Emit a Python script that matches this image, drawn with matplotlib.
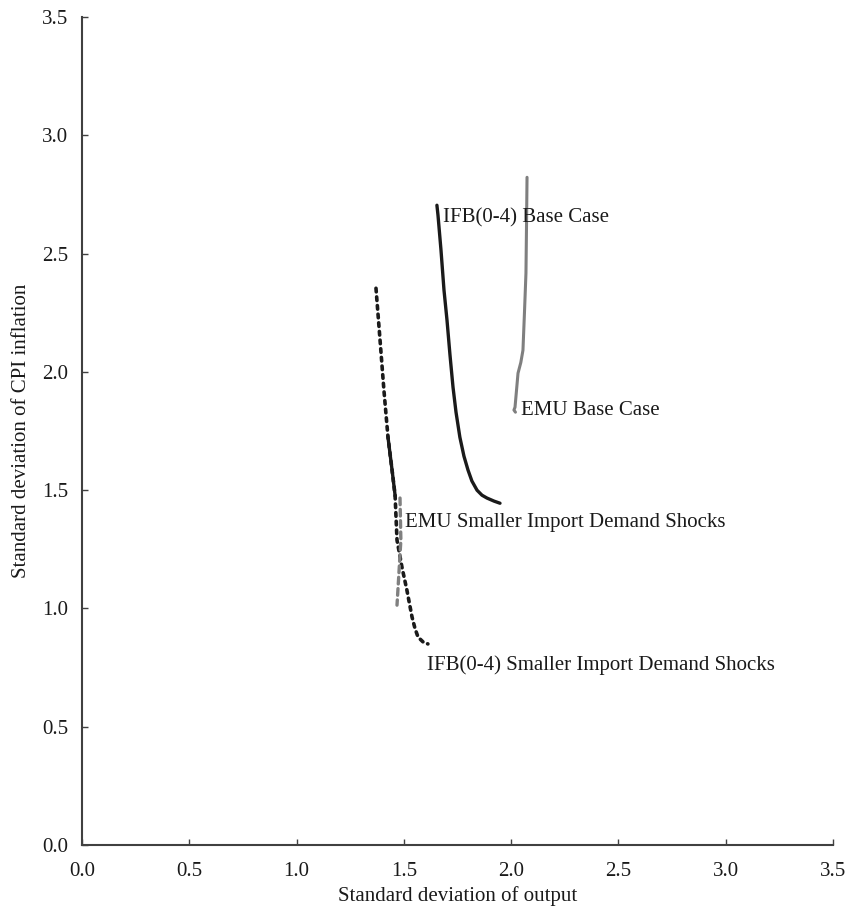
import matplotlib
matplotlib.use("Agg")
import matplotlib.pyplot as plt

plt.rcParams['font.family'] = ['Liberation Serif', 'DejaVu Serif']

# IFB(0-4) base case (solid black)
ifb_base_x = [1.654, 1.659, 1.673, 1.687, 1.701, 1.715, 1.729, 1.743, 1.761,
              1.780, 1.799, 1.817, 1.841, 1.864, 1.887, 1.920, 1.948]
ifb_base_y = [2.705, 2.663, 2.515, 2.346, 2.219, 2.071, 1.936, 1.830, 1.724,
              1.644, 1.585, 1.539, 1.500, 1.479, 1.467, 1.454, 1.445]

# EMU base case (solid grey)
emu_base_x = [2.074, 2.072, 2.069, 2.062, 2.055, 2.045, 2.032, 2.018, 2.013, 2.020]
emu_base_y = [2.823, 2.650, 2.418, 2.250, 2.092, 2.040, 1.995, 1.851, 1.839, 1.830]

# IFB(0-4) smaller import demand shocks (dotted black)
ifb_small_x = [1.370, 1.389, 1.407, 1.426, 1.445, 1.459, 1.468, 1.491, 1.514,
               1.538, 1.552, 1.566, 1.590, 1.612]
ifb_small_y = [2.354, 2.134, 1.923, 1.724, 1.585, 1.479, 1.289, 1.175, 1.078,
               0.964, 0.915, 0.879, 0.858, 0.850]

# EMU smaller import demand shocks (dashed grey)
emu_small_x = [1.482, 1.486, 1.477, 1.468]
emu_small_y = [1.467, 1.289, 1.150, 1.014]

labels = ["IFB(0-4) Base Case", "EMU Base Case",
          "EMU Smaller Import Demand Shocks", "IFB(0-4) Smaller Import Demand Shocks"]
label_x = [1.682, 2.046, 1.505, 1.608]
label_y = [2.653, 1.839, 1.365, 0.761]

ticks = [0.0, 0.5, 1.0, 1.5, 2.0, 2.5, 3.0, 3.5]

fig = plt.figure(figsize=(8.5, 9.07), dpi=100)
ax = fig.add_axes([0.0965, 0.0684, 0.8835, 0.9126])

ax.plot(ifb_base_x, ifb_base_y, color='#1a1a1a', lw=2.4,
        solid_capstyle='round', solid_joinstyle='round')
ax.plot(emu_base_x, emu_base_y, color='#7f7f7f', lw=2.2,
        solid_capstyle='round', solid_joinstyle='round')
ax.plot(ifb_small_x, ifb_small_y, color='#1a1a1a', lw=2.6,
        dashes=(1.0, 1.4), dash_capstyle='round')
ax.plot(ifb_small_x[3:6], ifb_small_y[3:6], color='#1a1a1a', lw=2.4)
ax.plot(emu_small_x, emu_small_y, color='#808080', lw=2.4,
        dashes=(2.0, 1.4), dash_capstyle='round')

for t, x, y in zip(labels, label_x, label_y):
    ax.text(x, y, t, fontsize=15, color='#1a1a1a', va='center', ha='left')

ax.set_xlim(0, 3.5)
ax.set_ylim(0, 3.5)
ax.set_xticks(ticks)
ax.set_yticks(ticks)
ax.set_xticklabels([f"{t:.1f}" for t in ticks])
ax.set_yticklabels([f"{t:.1f}" for t in ticks])
ax.tick_params(direction='in', length=4, width=1, colors='#404040',
               labelsize=15, labelcolor='#1a1a1a', pad=10)
ax.tick_params(axis='x', pad=12)

for s in ['top', 'right']:
    ax.spines[s].set_visible(False)
for s in ['left', 'bottom']:
    ax.spines[s].set_color('#404040')
    ax.spines[s].set_linewidth(1.5)

ax.set_xlabel("Standard deviation of output", fontsize=15, color='#1a1a1a', labelpad=4)
ax.set_ylabel("Standard deviation of CPI inflation", fontsize=15, color='#1a1a1a', labelpad=8)

fig.savefig("out.png", dpi=100)
